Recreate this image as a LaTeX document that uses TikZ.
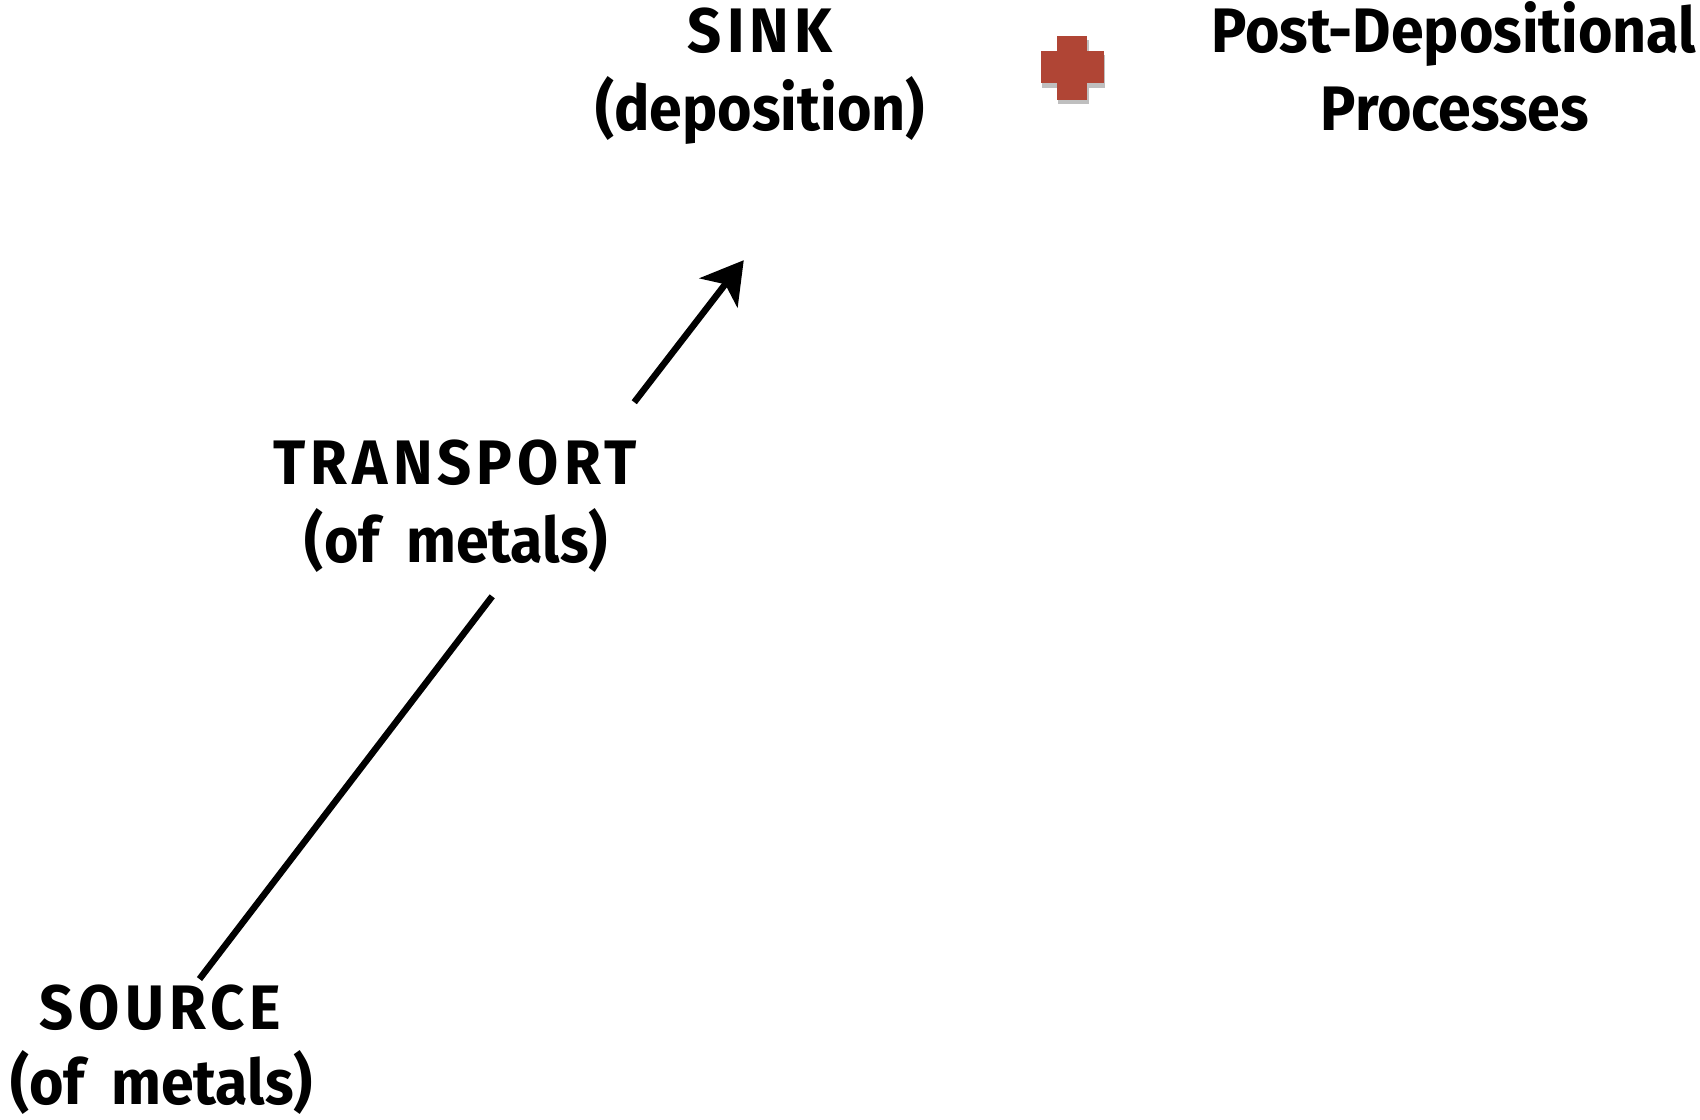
\documentclass[tikz,border=0pt]{standalone}
\usepackage{fontspec}
\setmainfont{Fira Sans}[FakeStretch=0.94]
\newfontfamily\capsfont{Fira Sans}[FakeStretch=0.95,LetterSpace=8]
\usetikzlibrary{arrows.meta}
\definecolor{plusred}{HTML}{B04535}
\tikzset{
  lbl/.style={anchor=base, inner sep=0pt, font=\fontsize{29}{36}\selectfont\bfseries},
  caplbl/.style={lbl, font=\fontsize{29}{36}\selectfont\capsfont\bfseries},
  conn/.style={line width=3pt, black},
}
\newcommand{\wsp}{\hspace{0.42em}}
\begin{document}
\begin{tikzpicture}[x=0.5pt,y=-0.5pt]
\useasboundingbox (0,0) rectangle (1568,1033);
% labels
\node[caplbl] (sink) at (701,48) {SINK};
\node[lbl] (sinksub) at (701,120) {(deposition)};
\node[lbl] (post) at (1341,48) {Post-Depositional};
\node[lbl] (postsub) at (1342,120) {Processes};
\node[caplbl] (transport) at (420,447) {TRANSPORT};
\node[lbl] (transportsub) at (421,519) {(of\wsp metals)};
\node[caplbl] (source) at (148,950) {SOURCE};
\node[lbl] (sourcesub) at (149,1019) {(of\wsp metals)};
% plus sign
\fill[black!25] (976,37) rectangle (1004,96);
\fill[black!25] (961,51) rectangle (1019,81);
\fill[plusred] (975,33) rectangle (1003,92);
\fill[plusred] (960,47) rectangle (1018,77);
% connectors
\coordinate (a1) at (184,903);
\coordinate (a2) at (454,550);
\coordinate (b1) at (585,371);
\coordinate (b2) at (686,240);
\draw[conn] (a1) -- (a2);
\draw[conn, -{Stealth[length=19pt,width=22pt,inset=5pt]}] (b1) -- (b2);
\end{tikzpicture}
\end{document}
